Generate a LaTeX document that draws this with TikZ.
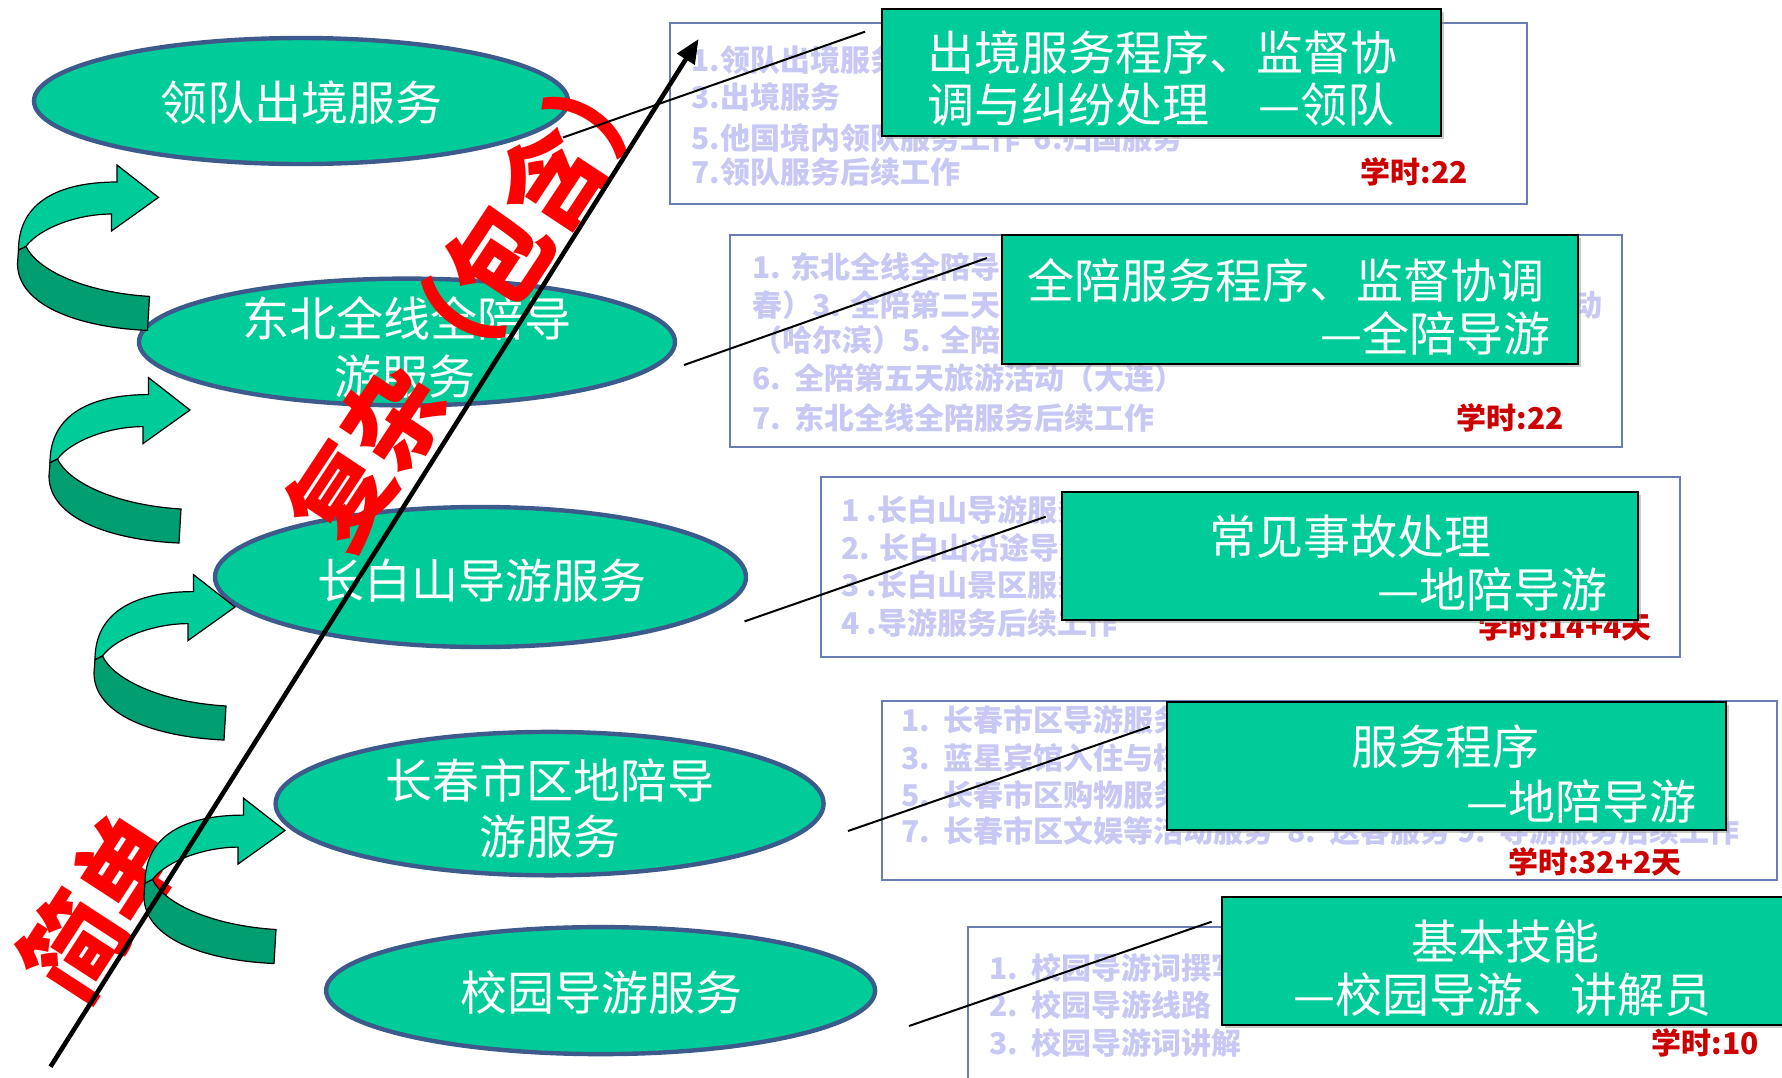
\documentclass[tikz,border=0pt]{standalone}
\usepackage{fontspec}
\newfontfamily\cjk{Noto Sans CJK SC}
\usetikzlibrary{shapes.geometric,arrows.meta,shadows}
\definecolor{tealA}{RGB}{0,204,153}
\definecolor{tealD}{RGB}{0,158,112}
\definecolor{ellB}{RGB}{60,90,140}
\definecolor{oboxC}{RGB}{105,125,180}
\definecolor{fadeC}{RGB}{200,200,245}
\definecolor{hredC}{RGB}{204,0,0}
\tikzset{
  ell/.style={ellipse, draw=ellB, line width=2.2pt, fill=tealA, inner sep=0pt},
  etxt/.style={text=white, font=\cjk\fontsize{23.5pt}{28pt}\selectfont, inner sep=0pt},
  gbox/.style={rectangle, draw=black, line width=1pt, fill=tealA, inner sep=0pt,
    drop shadow={shadow xshift=1.5pt, shadow yshift=-1.5pt, fill=black!40}},
  obox/.style={rectangle, draw=oboxC, line width=0.8pt, fill=white, inner sep=0pt},
  ftxt/.style={text=fadeC, font=\cjk\bfseries\fontsize{15pt}{18pt}\selectfont, anchor=west, inner sep=0pt},
  hrs/.style={text=hredC, font=\cjk\bfseries\fontsize{15pt}{18pt}\selectfont, anchor=east, inner sep=0pt},
  conn/.style={line width=1pt, draw=black},
  bigtxt/.style={text=red, font=\cjk\bfseries\fontsize{47.5pt}{50pt}\selectfont, inner sep=0pt},
  curvarrow/.pic={
    \filldraw[fill=tealD, draw=black, line width=0.6pt]
      (-132.5,48.9) .. controls (-122,72) and (-75,95) .. (-9,99) -- (-11,133)
      .. controls (-80,130) and (-141,108) .. (-141,66) -- (-140,52.6) -- cycle;
    \filldraw[fill=tealA, draw=black, line width=0.6pt]
      (-41.5,-15.4) -- (-41.5,-32.4) -- (0,0) -- (-47,33.6) -- (-47,16.6)
      .. controls (-80,16.6) and (-118,30) .. (-132.5,48.9) -- (-140,52.6)
      .. controls (-140,5) and (-100,-15.4) .. (-41.5,-15.4) -- cycle;
  }
}
\begin{document}
\begin{tikzpicture}[x=0.5pt, y=-0.5pt]
\fill[white] (0,0) rectangle (1782,1077);
\useasboundingbox (0,0) rectangle (1782,1077);

% outer boxes with faded text
\node[obox, minimum width=428.5pt, minimum height=90.5pt] (o1) at (1098.5,113.5) {};
\node[ftxt] (f11) at (691,60) {1.领队出境服务};
\node[ftxt] (f12) at (691,97) {3.出境服务};
\node[ftxt] (f13) at (691,138) {5.他国境内领队服务工作~~6.归国服务};
\node[ftxt] (f14) at (691,172) {7.领队服务后续工作};
\node[hrs] (h1) at (1468,172) {学时:22};

\node[obox, minimum width=446pt, minimum height=106pt] (o2) at (1176,341) {};
\node[ftxt] (f21) at (752,267) {1. 东北全线全陪导游};
\node[ftxt] (f22) at (752,305) {春）3. 全陪第二天};
\node[ftxt, anchor=east] (f22b) at (1603,305) {动};
\node[ftxt] (f23) at (752,340) {（哈尔滨）5. 全陪};
\node[ftxt] (f24) at (752,378) {6.~~全陪第五天旅游活动（大连）};
\node[ftxt] (f25) at (752,418) {7.~~东北全线全陪服务后续工作};
\node[hrs] (h2) at (1564,418) {学时:22};

\node[obox, minimum width=429.5pt, minimum height=90pt] (o3) at (1250.5,567) {};
\node[ftxt] (f31) at (841,510) {1 .长白山导游服务};
\node[ftxt] (f32) at (841,548) {2. 长白山沿途导游};
\node[ftxt] (f33) at (841,585) {3 .长白山景区服务};
\node[ftxt] (f34) at (841,623) {4 .导游服务后续工作};
\node[hrs] (h3) at (1652,627) {学时:14+4天};

\node[obox, minimum width=447.5pt, minimum height=89.5pt] (o4) at (1329.5,790.5) {};
\node[ftxt] (f41) at (901,720) {1.~~长春市区导游服务};
\node[ftxt] (f42) at (901,758) {3.~~蓝星宾馆入住与核};
\node[ftxt] (f43) at (901,795) {5.~~长春市区购物服务};
\node[ftxt] (f44) at (901,831) {7.~~长春市区文娱等活动服务~~8.~~送客服务 9.~~导游服务后续工作};
\node[hrs] (h4) at (1682,862) {学时:32+2天};

\node[obox, minimum width=420pt, minimum height=100pt] (o5) at (1388,1027) {};
\node[ftxt] (f51) at (989,968) {1.~~校园导游词撰写};
\node[ftxt] (f52) at (989,1005) {2.~~校园导游线路};
\node[ftxt] (f53) at (989,1043) {3.~~校园导游词讲解};
\node[hrs] (h5) at (1759,1043) {学时:10};

% green boxes
\node[gbox, minimum width=279.5pt, minimum height=63.5pt] (g1) at (1161.5,72.5) {};
\node[etxt, anchor=west] (g1a) at (927,53) {出境服务程序、监督协};
\node[etxt, anchor=west] (g1b) at (927,105) {调与纠纷处理};
\node[etxt, anchor=east] (g1c) at (1395,105) {—领队};

\node[gbox, minimum width=288pt, minimum height=64.5pt] (g2) at (1290,299.5) {};
\node[etxt, anchor=west] (g2a) at (1027,280) {全陪服务程序、监督协调};
\node[etxt, anchor=east] (g2b) at (1551,333) {—全陪导游};

\node[gbox, minimum width=287.75pt, minimum height=64pt] (g3) at (1350,556) {};
\node[etxt] (g3a) at (1350,537) {常见事故处理};
\node[etxt, anchor=east] (g3b) at (1608,590) {—地陪导游};

\node[gbox, minimum width=279.5pt, minimum height=64pt] (g4) at (1446.5,766) {};
\node[etxt] (g4a) at (1445,747) {服务程序};
\node[etxt, anchor=east] (g4b) at (1697,802) {—地陪导游};

\node[gbox, minimum width=290pt, minimum height=64pt] (g5) at (1512,961) {};
\node[etxt] (g5a) at (1505,942) {基本技能};
\node[etxt] (g5b) at (1502,995) {—校园导游、讲解员};

% ellipses
\node[ell, minimum width=267pt, minimum height=63pt] (e1) at (301,101) {};
\node[etxt] (t1) at (301,103) {领队出境服务};
\node[ell, minimum width=268pt, minimum height=63.4pt] (e2) at (407,342) {};
\node[etxt] (t2a) at (407,318) {东北全线全陪导};
\node[etxt] (t2b) at (405,377) {游服务};
\node[ell, minimum width=265.5pt, minimum height=70pt] (e3) at (480.5,577) {};
\node[etxt] (t3) at (482,581) {长白山导游服务};
\node[ell, minimum width=274pt, minimum height=71.7pt] (e4) at (549.6,803.6) {};
\node[etxt] (t4a) at (549.6,780) {长春市区地陪导};
\node[etxt] (t4b) at (549.6,837) {游服务};
\node[ell, minimum width=274.5pt, minimum height=63.5pt] (e5) at (600.6,990.6) {};
\node[etxt] (t5) at (601,993) {校园导游服务};

% red labels
\node[bigtxt, rotate=56.5, yscale=1.1] (fz) at (472,297) {复杂（包含）};
\node[bigtxt, rotate=57, yscale=1.1, font=\cjk\bfseries\fontsize{48pt}{52pt}\selectfont] (jd) at (100,906) {简单};

% curved arrows
\pic at (158.5,197.4) {curvarrow};
\pic at (190,410) {curvarrow};
\pic at (235,607) {curvarrow};
\pic at (285,830.5) {curvarrow};

% connectors
\coordinate (c1a) at (563,137.5); \coordinate (c1b) at (865,31.7);
\coordinate (c2a) at (684,365);   \coordinate (c2b) at (987,258);
\coordinate (c3a) at (744.5,621.4); \coordinate (c3b) at (1045.7,516.7);
\coordinate (c4a) at (848,831);   \coordinate (c4b) at (1149.7,726.7);
\coordinate (c5a) at (909,1026);  \coordinate (c5b) at (1211.6,921.7);
\draw[conn] (c1a) -- (c1b);
\draw[conn] (c2a) -- (c2b);
\draw[conn] (c3a) -- (c3b);
\draw[conn] (c4a) -- (c4b);
\draw[conn] (c5a) -- (c5b);

% big arrow
\coordinate (bA) at (50.5,1066.7);
\coordinate (bB) at (698.6,39);
\draw[line width=2.3pt, -{Triangle[length=12pt,width=10pt]}] (bA) -- (bB);
\end{tikzpicture}
\end{document}
